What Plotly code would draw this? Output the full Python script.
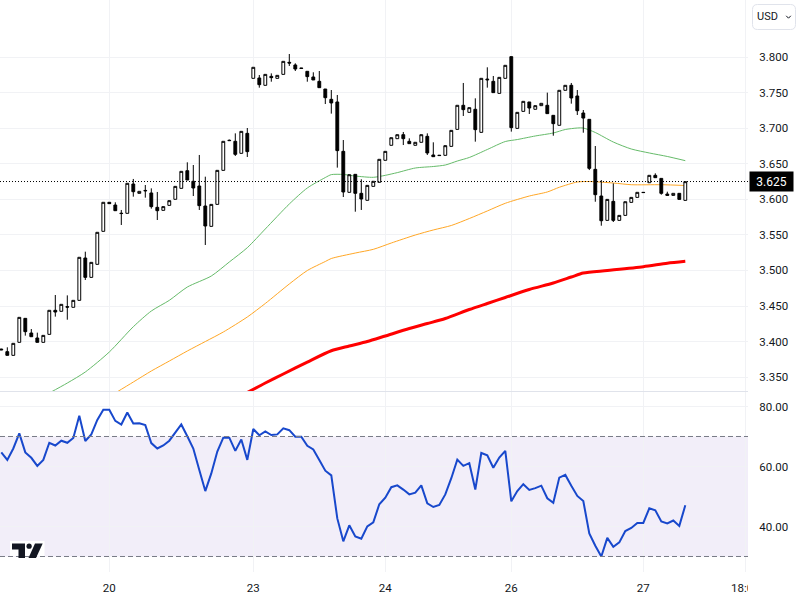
import plotly.graph_objects as go

# ---------- data ----------
candle_index = list(range(115))
opens = [3.3895,3.3859,3.3807,3.399,3.4327,3.4121,3.4051,3.399,3.4102,3.444,
3.4426,3.4491,3.4482,3.458,3.5175,3.4903,3.5086,3.555,3.5958,3.592,
3.5805,3.5803,3.6215,3.6084,3.6125,3.6089,3.5887,3.5845,3.5915,3.6,
3.6154,3.6402,3.6253,3.6187,3.5906,3.562,3.5929,3.6407,3.683,3.6815,
3.6646,3.6927,3.77,3.7705,3.7602,3.7728,3.77,3.7756,3.7925,3.7888,
3.7845,3.7799,3.7719,3.7658,3.755,3.7405,3.7368,3.6674,3.6098,3.6351,
3.6084,3.5986,3.6182,3.6239,3.6548,3.6759,3.6852,3.6908,3.6815,3.6759,
3.6801,3.6885,3.6623,3.662,3.6618,3.6744,3.6983,3.7321,3.7222,3.7265,
3.6941,3.769,3.7658,3.7489,3.77,3.8005,3.6997,3.7236,3.7368,3.7265,
3.7316,3.7321,3.718,3.704,3.7532,3.7602,3.7452,3.7213,3.7124,3.6421,
3.6046,3.5704,3.5971,3.5704,3.5774,3.5957,3.6027,3.6098,3.6233,3.6337,
3.6294,3.6074,3.6055,3.6084,3.5985]
closes = [3.3885,3.3807,3.3976,3.4341,3.414,3.4069,3.399,3.4088,3.444,3.4416,
3.4524,3.4485,3.458,3.5185,3.4903,3.5114,3.5536,3.5958,3.5939,3.584,
3.58,3.6225,3.6107,3.6112,3.612,3.5897,3.584,3.5897,3.5981,3.6182,
3.6393,3.6271,3.6159,3.5911,3.5625,3.5929,3.6407,3.6815,3.6825,3.6632,
3.6955,3.667,3.7855,3.7611,3.7756,3.771,3.7742,3.7939,3.7915,3.7831,
3.784,3.7724,3.7677,3.7569,3.7428,3.7354,3.6684,3.6103,3.6346,3.6084,
3.6004,3.6196,3.6253,3.6562,3.6674,3.6866,3.6908,3.6852,3.6782,3.6801,
3.6908,3.6651,3.6599,3.6615,3.6754,3.6969,3.7321,3.726,3.7288,3.6979,
3.77,3.768,3.7499,3.7714,3.7883,3.7007,3.7222,3.7377,3.7283,3.7316,
3.7349,3.7204,3.7063,3.7532,3.7602,3.7424,3.7245,3.7142,3.6435,3.6065,
3.5699,3.5999,3.5704,3.5774,3.5966,3.6027,3.6098,3.6095,3.6337,3.6304,
3.6084,3.6055,3.6084,3.5999,3.6248]
highs = [3.39,3.392,3.3976,3.4341,3.4327,3.4177,3.4126,3.4088,3.444,3.4655,
3.4524,3.465,3.458,3.5185,3.5264,3.5114,3.5536,3.5958,3.5958,3.5958,
3.585,3.6225,3.6286,3.6112,3.6201,3.6154,3.6103,3.5897,3.5981,3.6182,
3.6393,3.652,3.6482,3.6623,3.6318,3.5929,3.6407,3.6815,3.684,3.6927,
3.6955,3.7002,3.7855,3.7747,3.7756,3.777,3.7742,3.7939,3.8042,3.7911,
3.7845,3.7799,3.7785,3.7803,3.755,3.7536,3.7466,3.6833,3.6346,3.6351,
3.6281,3.6196,3.6253,3.6562,3.6674,3.6866,3.6908,3.6946,3.6857,3.6801,
3.6908,3.6927,3.6801,3.662,3.6754,3.6969,3.7321,3.7635,3.7288,3.7419,
3.77,3.7855,3.7733,3.7714,3.7883,3.8005,3.7222,3.7377,3.7368,3.7316,
3.7349,3.7499,3.718,3.7532,3.7602,3.7635,3.7536,3.7255,3.7124,3.6749,
3.6271,3.5999,3.6224,3.5774,3.5966,3.6027,3.6098,3.6098,3.6337,3.6365,
3.6294,3.6107,3.6084,3.6084,3.6248]
lows = [3.388,3.3807,3.3807,3.399,3.4084,3.4069,3.399,3.399,3.4102,3.4351,
3.4426,3.4308,3.4482,3.458,3.4866,3.4903,3.5086,3.555,3.5939,3.584,
3.5639,3.5803,3.6037,3.6084,3.6023,3.5869,3.5709,3.5845,3.5915,3.6,
3.6154,3.6271,3.6046,3.585,3.5358,3.562,3.5929,3.6407,3.682,3.6609,
3.6646,3.6595,3.77,3.7569,3.7602,3.7653,3.77,3.7756,3.7874,3.7803,
3.784,3.7653,3.7677,3.7569,3.7339,3.7204,3.6445,3.6032,3.6098,3.5826,
3.585,3.5986,3.6182,3.6239,3.6548,3.6759,3.6852,3.6763,3.6782,3.6759,
3.6801,3.6623,3.6599,3.6615,3.6618,3.6744,3.6983,3.7171,3.7222,3.681,
3.6941,3.7569,3.7499,3.7489,3.77,3.6951,3.6997,3.7236,3.7199,3.7265,
3.7316,3.7204,3.6894,3.704,3.7532,3.7344,3.7185,3.6936,3.6411,3.5966,
3.5629,3.5704,3.5681,3.5704,3.5774,3.5957,3.6027,3.6095,3.6233,3.6304,
3.6065,3.6055,3.6055,3.5999,3.5985]

green_index = [8,11,14,18,22,25,28,31,35,38,41,44,48,51,54,55,57,59,62,64,66,69,72,74,76,78,81,84,86,89,92,94,96,97,99,102,105,108,111,114]
green_ma = [3.3278,3.3418,3.3573,3.3854,3.4209,3.443,3.458,3.4767,3.4922,3.5119,3.532,3.5583,3.5934,3.6159,3.6306,3.6347,3.6349,3.6327,3.6309,3.6337,3.6375,3.644,3.6461,3.6482,3.6538,3.6588,3.67,3.6812,3.684,3.689,3.6932,3.6981,3.7002,3.7002,3.6939,3.6805,3.6707,3.6651,3.6602,3.6543]

orange_index = [19,22,25,28,31,34,37,41,44,48,51,54,55,59,62,65,69,72,75,78,81,84,88,91,93,96,98,102,105,110,114]
orange_ma = [3.3278,3.3432,3.3587,3.3727,3.3868,3.4001,3.4135,3.4346,3.4536,3.481,3.4999,3.5126,3.5168,3.5245,3.5297,3.5386,3.5498,3.5569,3.5632,3.573,3.5836,3.5944,3.6046,3.6103,3.6169,3.6243,3.625,3.6229,3.6205,3.6205,3.6194]

red_index = [41,44,47,51,55,58,61,64,68,71,74,78,81,84,88,92,95,97,101,107,111,114]
red_ma = [3.3285,3.3418,3.3545,3.3713,3.3872,3.3938,3.4001,3.4079,3.4184,3.4254,3.4325,3.4451,3.4536,3.462,3.4732,3.4824,3.4908,3.4964,3.4999,3.5053,3.5102,3.5129]

rsi = [64.7,62.2,66.0,71.05,64.7,62.9,60.2,62.2,67.9,67.0,
68.6,67.9,69.5,76.9,68.5,70.7,75.5,78.9,78.9,75.2,
74.0,78.0,74.3,74.4,73.8,67.8,66.0,67.0,68.6,71.4,
74.0,70.1,66.0,58.8,51.8,57.7,65.0,69.6,69.6,65.2,
69.0,62.2,72.5,70.4,71.7,70.5,70.7,72.7,72.1,69.9,
69.9,66.9,65.7,62.2,58.6,57.05,42.7,35.05,40.4,36.7,
35.9,40.05,41.4,47.4,49.6,53.1,53.7,52.3,50.7,51.3,
53.7,47.7,46.5,47.2,50.7,56.1,62.3,60.2,61.1,52.3,
64.5,63.7,59.6,63.0,65.2,48.4,51.8,54.1,52.2,52.8,
53.6,49.4,47.9,56.3,57.2,53.6,50.2,48.5,37.7,33.6,
30.0,36.2,33.2,34.7,38.5,39.5,41.2,41.2,46.05,45.4,
41.7,41.05,42.0,40.2,47.05]

last_price = 3.625
rsi_upper, rsi_lower = 70, 30
x_tick_index = [18, 42, 64, 85, 107, 124]
x_tick_text = ["20", "23", "24", "26", "27", "18:00"]
price_ticks = [3.35,3.4,3.45,3.5,3.55,3.6,3.65,3.7,3.75,3.8]
price_tick_text = ["3.350","3.400","3.450","3.500","3.550","3.600","3.650","3.700","3.750","3.800"]
rsi_ticks = [40,60,80]
rsi_tick_text = ["40.00","60.00","80.00"]

# ---------- layout constants ----------
W, H = 800, 600
PW, PH = 748, 572      # plot box in pixels
FONT = "Roboto"
INK = "#131722"
GRID = "#f1f2f5"
TICK = 11.5
def px(x): return x / PW
def py(y): return 1 - y / PH

XR = [-0.217, 124.45]
PR = [3.3306, 3.8801]
RR = [24.83, 84.83]

fig = go.Figure()
fig.add_trace(go.Scatter(x=green_index, y=green_ma, mode="lines", xaxis="x2", yaxis="y",
                         line=dict(color="#66bb6a", width=1, shape="spline", smoothing=0.7), hoverinfo="skip"))
fig.add_trace(go.Scatter(x=orange_index, y=orange_ma, mode="lines", xaxis="x2", yaxis="y",
                         line=dict(color="#ffa726", width=1, shape="spline", smoothing=0.7), hoverinfo="skip"))
fig.add_trace(go.Scatter(x=red_index, y=red_ma, mode="lines", xaxis="x2", yaxis="y",
                         line=dict(color="#ff0000", width=3, shape="spline", smoothing=0.7), hoverinfo="skip"))
fig.add_trace(go.Candlestick(x=candle_index, open=opens, high=highs, low=lows, close=closes,
                             xaxis="x2", yaxis="y3", whiskerwidth=0,
                             increasing=dict(fillcolor="#ffffff", line=dict(color="#000000", width=1)),
                             decreasing=dict(fillcolor="#000000", line=dict(color="#000000", width=1))))
fig.add_trace(go.Scatter(x=candle_index, y=rsi, mode="lines", xaxis="x", yaxis="y2",
                         line=dict(color="#1848cc", width=2), hoverinfo="skip"))

def rpath(x0, y0, x1, y1, r):
    return (f"M{px(x0+r)},{py(y0)} L{px(x1-r)},{py(y0)} Q{px(x1)},{py(y0)} {px(x1)},{py(y0+r)} "
            f"L{px(x1)},{py(y1-r)} Q{px(x1)},{py(y1)} {px(x1-r)},{py(y1)} L{px(x0+r)},{py(y1)} "
            f"Q{px(x0)},{py(y1)} {px(x0)},{py(y1-r)} L{px(x0)},{py(y0+r)} Q{px(x0)},{py(y0)} {px(x0+r)},{py(y0)} Z")

def poly(pts):
    return "M" + " L".join(f"{px(a)},{py(b)}" for a, b in pts) + " Z"

shapes = [
    # RSI band and its dashed limits
    dict(type="rect", xref="paper", x0=0, x1=1, yref="y2", y0=rsi_lower, y1=rsi_upper,
         fillcolor="rgba(126,87,194,0.1)", line_width=0, layer="below"),
    dict(type="line", xref="paper", x0=0, x1=1, yref="y2", y0=rsi_upper, y1=rsi_upper,
         line=dict(color="#787b86", width=1, dash="5px,3px")),
    dict(type="line", xref="paper", x0=0, x1=1, yref="y2", y0=rsi_lower, y1=rsi_lower,
         line=dict(color="#787b86", width=1, dash="5px,3px")),
    # pane separator
    dict(type="line", xref="paper", x0=0, x1=1, yref="paper", y0=py(391.5), y1=py(391.5),
         line=dict(color="#e0e3eb", width=1)),
    # last price dotted line
    dict(type="line", xref="paper", x0=0, x1=1, yref="y", y0=last_price, y1=last_price,
         line=dict(color="#000000", width=1, dash="1px,2px")),
    # right-hand panel hides what runs past the time axis
    dict(type="rect", xref="paper", yref="paper", x0=1, x1=px(800), y0=py(600), y1=py(573),
         fillcolor="#ffffff", line_width=0, layer="above"),
    # currency button
    dict(type="path", xref="paper", yref="paper", path=rpath(752.5, 4.5, 795.5, 29.5, 5),
         fillcolor="#ffffff", line=dict(color="#e0e3eb", width=1), layer="above"),
    dict(type="path", xref="paper", yref="paper",
         path=f"M{px(786.2)},{py(15.8)} L{px(788.5)},{py(18.2)} L{px(790.8)},{py(15.8)}",
         line=dict(color=INK, width=1), layer="above"),
    # logo
    dict(type="rect", xref="paper", yref="paper", x0=px(10), x1=px(44.5), y0=py(556), y1=py(541),
         fillcolor="#ffffff", line_width=0, layer="above"),
    dict(type="path", xref="paper", yref="paper",
         path=poly([(12, 543.5), (25, 543.5), (25, 558), (18.5, 558), (18.5, 549.5), (12, 549.5)]),
         fillcolor=INK, line_width=0, layer="above"),
    dict(type="circle", xref="paper", yref="paper", x0=px(26.5), x1=px(31.7), y0=py(548.8), y1=py(543.5),
         fillcolor=INK, line_width=0, layer="above"),
    dict(type="path", xref="paper", yref="paper",
         path=poly([(35, 543.5), (42.7, 543.5), (36, 558), (28.5, 558)]),
         fillcolor=INK, line_width=0, layer="above"),
]

annotations = [
    dict(xref="paper", yref="paper", x=px(749), y=py(181.5), xanchor="left", yanchor="middle",
         text="3.625", showarrow=False, width=41, height=17, bgcolor="#000000",
         font=dict(family=FONT, size=12, color="#ffffff")),
    dict(xref="paper", yref="paper", x=px(767), y=py(16.5), xanchor="center", yanchor="middle",
         text="USD", showarrow=False, font=dict(family=FONT, size=11, color=INK)),
]

fig.update_layout(
    width=W, height=H, margin=dict(l=0, r=W - PW, t=0, b=H - PH, pad=0),
    paper_bgcolor="#ffffff", plot_bgcolor="#ffffff", showlegend=False, boxgap=0.33,
    font=dict(family=FONT, size=TICK, color=INK),
    shapes=shapes, annotations=annotations,
    xaxis=dict(domain=[0, 1], range=XR, anchor="y2", tickmode="array", tickvals=x_tick_index,
               ticktext=x_tick_text, showgrid=True, gridcolor=GRID, gridwidth=1, zeroline=False,
               ticks="outside", ticklen=5, tickcolor="rgba(0,0,0,0)", showline=False,
               tickfont=dict(family=FONT, size=TICK, color=INK)),
    xaxis2=dict(domain=[0, 1], range=XR, anchor="y", tickmode="array", tickvals=x_tick_index,
                ticktext=x_tick_text, showticklabels=False, showgrid=True, gridcolor=GRID, gridwidth=1,
                zeroline=False, ticks="", rangeslider=dict(visible=False)),
    yaxis=dict(domain=[py(391), 1], range=PR, side="right", anchor="x2", tickmode="array",
               tickvals=price_ticks, ticktext=price_tick_text, showgrid=True, gridcolor=GRID,
               zeroline=False, ticks="outside", ticklen=8, tickcolor="rgba(0,0,0,0)",
               tickfont=dict(family=FONT, size=TICK, color=INK)),
    yaxis3=dict(range=PR, overlaying="y", side="right", anchor="x2", showgrid=False, zeroline=False,
                showticklabels=False, ticks=""),
    yaxis2=dict(domain=[0, py(392)], range=RR, side="right", anchor="x", tickmode="array",
                tickvals=rsi_ticks, ticktext=rsi_tick_text, showgrid=True, gridcolor=GRID,
                zeroline=False, ticks="outside", ticklen=8, tickcolor="rgba(0,0,0,0)",
                tickfont=dict(family=FONT, size=TICK, color=INK)),
)

fig.write_html("out.html", config={"displayModeBar": False},
               post_script="document.body.style.margin='0';document.body.style.overflow='hidden';")
